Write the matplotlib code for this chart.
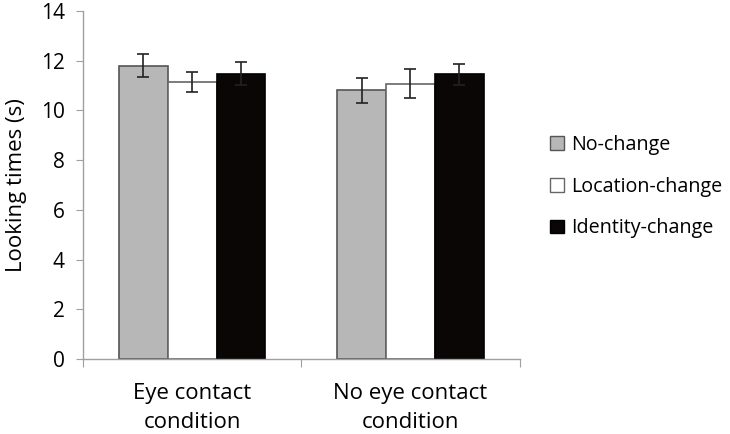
import matplotlib
matplotlib.use("Agg")
import matplotlib.pyplot as plt
from matplotlib.patches import Patch
import numpy as np

plt.rcParams["font.family"] = ["Open Sans", "DejaVu Sans"]

# -------- Data --------
conditions = ["Eye contact\ncondition", "No eye contact\ncondition"]
series = ["No-change", "Location-change", "Identity-change"]
no_change = [11.8, 10.8]
location_change = [11.15, 11.08]
identity_change = [11.48, 11.45]
no_change_err = [0.45, 0.5]
location_change_err = [0.4, 0.6]
identity_change_err = [0.45, 0.42]

values = [no_change, location_change, identity_change]
errors = [no_change_err, location_change_err, identity_change_err]
face = ["#b7b7b7", "#ffffff", "#0a0606"]
edge = ["#555555", "#666666", "#000000"]

fig = plt.figure(figsize=(7.3, 4.34), dpi=100)
ax = fig.add_axes([0.1137, 0.1728, 0.598, 0.802])

x = np.arange(len(conditions))
width = 0.224
for i, (vals, errs) in enumerate(zip(values, errors)):
    ax.bar(x + (i - 1) * width, vals, width, color=face[i],
           edgecolor=edge[i], linewidth=1.2, zorder=2)
    ax.errorbar(x + (i - 1) * width, vals, yerr=errs, fmt="none",
                ecolor="#222222", elinewidth=1.2, capsize=4, capthick=1.2, zorder=3)

ax.set_xlim(-0.5, 1.5)
ax.set_ylim(0, 14)
ax.set_yticks(range(0, 15, 2))
ax.set_ylabel("Looking times (s)", fontsize=16, labelpad=10)

# category labels centered, ticks at group boundaries
ax.set_xticks([-0.5, 0.5, 1.5])
ax.set_xticklabels([])
ax.set_xticks(x, minor=True)
ax.set_xticklabels(conditions, minor=True, fontsize=16, linespacing=1.5)
ax.tick_params(axis="x", which="minor", length=0, pad=17)
ax.tick_params(axis="x", which="major", length=6, color="#a0a0a0", direction="out")
ax.tick_params(axis="y", length=5, color="#a0a0a0", labelsize=15, pad=8)

for s in ["top", "right"]:
    ax.spines[s].set_visible(False)
for s in ["left", "bottom"]:
    ax.spines[s].set_color("#a0a0a0")
    ax.spines[s].set_linewidth(1.0)

handles = [Patch(facecolor=face[i], edgecolor=edge[i], label=series[i]) for i in range(3)]
fig.legend(handles=handles, loc="center left", bbox_to_anchor=(0.729, 0.570),
           frameon=False, fontsize=14.2, handlelength=0.7, handleheight=0.7,
           handletextpad=0.4, labelspacing=1.1)

fig.savefig("out.png", dpi=100)
